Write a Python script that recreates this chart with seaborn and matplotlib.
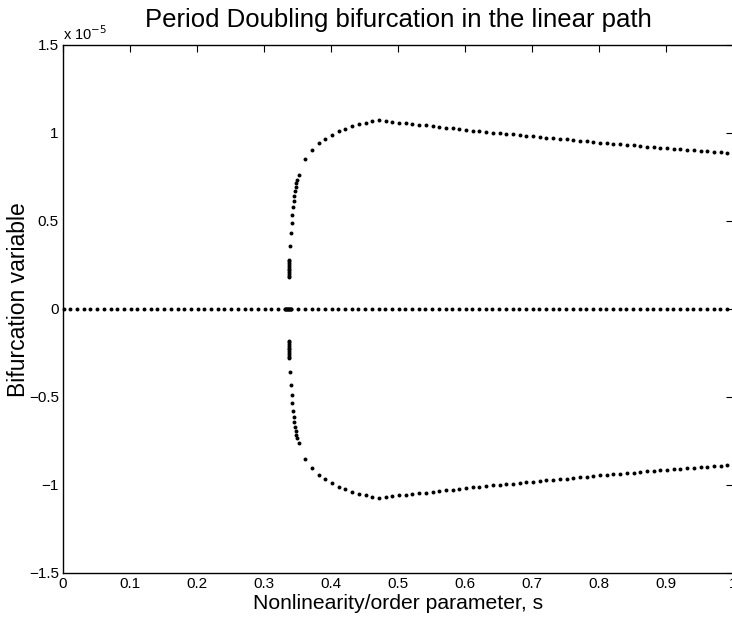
import matplotlib
matplotlib.use("Agg")
import matplotlib.pyplot as plt
import seaborn as sns
import pandas as pd

# ---- data (y in units of 1e-5) ----
trivial_s = [0.001, 0.011, 0.021, 0.031, 0.041, 0.051, 0.061, 0.071, 0.081, 0.091,
             0.101, 0.111, 0.121, 0.131, 0.141, 0.151, 0.161, 0.171, 0.181, 0.191,
             0.201, 0.211, 0.221, 0.231, 0.241, 0.251, 0.261, 0.271, 0.281, 0.291,
             0.301, 0.311, 0.321, 0.331, 0.332, 0.333, 0.334, 0.335, 0.336, 0.337,
             0.338, 0.339, 0.340, 0.341, 0.351, 0.361, 0.371, 0.381, 0.391,
             0.401, 0.411, 0.421, 0.431, 0.441, 0.451, 0.461, 0.471, 0.481, 0.491,
             0.501, 0.511, 0.521, 0.531, 0.541, 0.551, 0.561, 0.571, 0.581, 0.591,
             0.601, 0.611, 0.621, 0.631, 0.641, 0.651, 0.661, 0.671, 0.681, 0.691,
             0.701, 0.711, 0.721, 0.731, 0.741, 0.751, 0.761, 0.771, 0.781, 0.791,
             0.801, 0.811, 0.821, 0.831, 0.841, 0.851, 0.861, 0.871, 0.881, 0.891,
             0.901, 0.911, 0.921, 0.931, 0.941, 0.951, 0.961, 0.971, 0.981, 0.991]
trivial_y = [0.0] * len(trivial_s)

branch_s = [0.3378, 0.3378, 0.3378, 0.3378, 0.3378, 0.3378, 0.3378, 0.3378, 0.3378, 0.3378, 0.3378,
            0.3390, 0.3403, 0.3413, 0.3423, 0.3433, 0.3443, 0.3453, 0.3463, 0.3473, 0.3483, 0.3493,
            0.3516, 0.3616, 0.3716, 0.3816, 0.3916, 0.4016, 0.4116, 0.4216, 0.4316, 0.4416,
            0.4516, 0.4616, 0.4716, 0.4816, 0.4916, 0.5016, 0.5116, 0.5216, 0.5316, 0.5416,
            0.5516, 0.5616, 0.5716, 0.5816, 0.5916, 0.6016, 0.6116, 0.6216, 0.6316, 0.6416,
            0.6516, 0.6616, 0.6716, 0.6816, 0.6916, 0.7016, 0.7116, 0.7216, 0.7316, 0.7416,
            0.7516, 0.7616, 0.7716, 0.7816, 0.7916, 0.8016, 0.8116, 0.8216, 0.8316, 0.8416,
            0.8516, 0.8616, 0.8716, 0.8816, 0.8916, 0.9016, 0.9116, 0.9216, 0.9316, 0.9416,
            0.9516, 0.9616, 0.9716, 0.9816, 0.9916]
branch_y = [0.18, 0.19, 0.20, 0.21, 0.22, 0.23, 0.24, 0.25, 0.26, 0.27, 0.28,
            0.358, 0.430, 0.487, 0.534, 0.578, 0.614, 0.644, 0.670, 0.693, 0.714, 0.731,
            0.761, 0.852, 0.905, 0.941, 0.968, 0.990, 1.009, 1.024, 1.038, 1.049,
            1.059, 1.066, 1.072, 1.068, 1.064, 1.059, 1.055, 1.051, 1.047, 1.044,
            1.040, 1.036, 1.030, 1.027, 1.021, 1.017, 1.013, 1.010, 1.006, 1.002,
            0.998, 0.994, 0.992, 0.989, 0.985, 0.981, 0.977, 0.973, 0.970, 0.966,
            0.964, 0.960, 0.955, 0.953, 0.949, 0.945, 0.941, 0.939, 0.936, 0.932,
            0.930, 0.926, 0.922, 0.920, 0.916, 0.915, 0.911, 0.907, 0.905, 0.902,
            0.899, 0.896, 0.894, 0.892, 0.888]
branch_lower_y = [-v for v in branch_y]

x_ticks = [0, 0.1, 0.2, 0.3, 0.4, 0.5, 0.6, 0.7, 0.8, 0.9, 1.0]
x_ticklabels = ["0", "0.1", "0.2", "0.3", "0.4", "0.5", "0.6", "0.7", "0.8", "0.9", "1"]
y_ticks = [-1.5, -1, -0.5, 0, 0.5, 1, 1.5]
y_ticklabels = ["\u22121.5", "\u22121", "\u22120.5", "0", "0.5", "1", "1.5"]

title = "Period Doubling bifurcation in the linear path"
xlabel = "Nonlinearity/order parameter, s"
ylabel = "Bifurcation variable"

# ---- build table ----
df = pd.DataFrame({
    "s": trivial_s + branch_s + branch_s,
    "v": trivial_y + branch_y + branch_lower_y,
})

sns.set_style("white")
plt.rcParams["font.family"] = ["Liberation Sans", "DejaVu Sans"]
plt.rcParams["text.color"] = "black"
plt.rcParams["axes.labelcolor"] = "black"

W, H = 732, 619
fig = plt.figure(figsize=(W / 100, H / 100), dpi=100)
left, right, top, bottom = 63, 733, 45, 573
ax = fig.add_axes([left / W, (H - bottom) / H, (right - left) / W, (bottom - top) / H])

sns.scatterplot(data=df, x="s", y="v", ax=ax, color="black", s=8,
                linewidth=0, marker="o", legend=False, clip_on=False)

ax.set_xlim(0, 1)
ax.set_ylim(-1.5, 1.5)
ax.set_xticks(x_ticks)
ax.set_xticklabels(x_ticklabels)
ax.set_yticks(y_ticks)
ax.set_yticklabels(y_ticklabels)
ax.tick_params(direction="in", length=5, width=0.8, top=True, right=True,
               labelsize=11, pad=3, colors="black")
for sp in ax.spines.values():
    sp.set_visible(True)
    sp.set_color("black")
    sp.set_linewidth(1.0)

ax.set_xlabel(xlabel, fontsize=15.2, labelpad=2)
ax.set_ylabel(ylabel, fontsize=16.5)
ax.yaxis.set_label_coords(-0.049, 0.517)
ax.set_title(title, fontsize=18.5, pad=13)
ax.text(0.0, 1.004, r"x 10$^{-5}$", transform=ax.transAxes, fontsize=10.5,
        ha="left", va="bottom")

fig.savefig("out.png", dpi=100, facecolor="white")
